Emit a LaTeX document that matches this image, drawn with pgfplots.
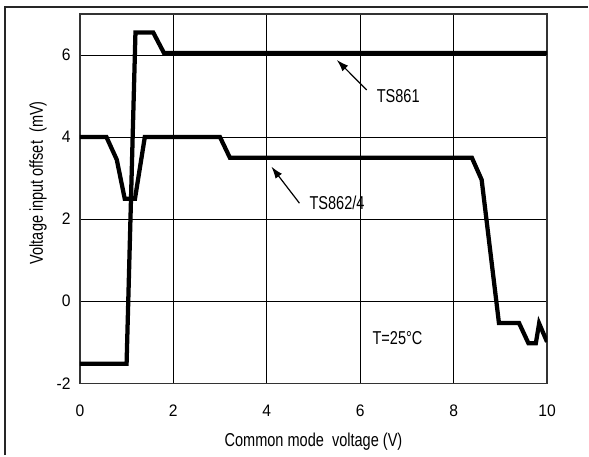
\documentclass[border=0pt]{standalone}
\usepackage{fontspec}
\setmainfont{Liberation Sans}[FakeStretch=0.94]
\newfontfamily\narrow{Liberation Sans}[FakeStretch=0.78]
\usepackage{pgfplots}
\pgfplotsset{compat=1.18}
\usetikzlibrary{arrows.meta}

\pgfplotstableread{
x y
0 -1.52
1.0 -1.52
1.19 6.55
1.57 6.55
1.80 6.05
10 6.05
}\tsone

\pgfplotstableread{
x y
0 4.0
0.57 4.0
0.79 3.45
0.96 2.5
1.18 2.5
1.39 4.0
3.0 4.0
3.21 3.5
8.39 3.5
8.60 2.96
8.97 -0.53
9.40 -0.53
9.60 -1.02
9.76 -1.02
9.83 -0.54
10.0 -0.99
}\tstwo

\begin{document}
\begin{tikzpicture}[font=\fontsize{12}{14}\selectfont]
\begin{axis}[
  name=ax,
  at={(0,0)}, anchor=south west,
  scale only axis,
  width=351pt, height=277.5pt,
  xmin=0, xmax=10, ymin=-2, ymax=7,
  xtick={0,2,...,10}, ytick={-2,0,...,6},
  major tick length=0pt,
  grid=major,
  grid style={black, line width=0.75pt},
  axis line style={black!80, line width=1pt},
  tick label style={font=\fontsize{12.5}{14}\selectfont},
  /pgf/number format/assume math mode=true,
  xticklabel style={yshift=-12.5pt},
  yticklabel style={xshift=-3.5pt},
  xlabel={Common mode\ \ voltage (V)},
  ylabel={Voltage input offset\ \ (mV)},
  label style={font=\narrow\fontsize{14}{16}\selectfont},
  xlabel style={at={(axis description cs:0.5,-0.158)}, anchor=center},
  ylabel style={at={(axis description cs:-0.0897,0.543)}, anchor=center},
]
\addplot[black, line width=3.2pt] table[x=x, y=y] {\tsone};
\addplot[black, line width=3.2pt] table[x=x, y=y] {\tstwo};

\draw[-{Latex[length=9pt,width=6pt]}, line width=0.9pt] (axis cs:6.14,5.15) -- (axis cs:5.5,5.88);
\node[anchor=west, inner sep=0pt, font=\narrow\fontsize{14}{16}\selectfont] at (axis cs:6.35,5.0) {TS861};
\draw[-{Latex[length=9pt,width=6pt]}, line width=0.9pt] (axis cs:4.70,2.39) -- (axis cs:4.10,3.28);
\node[anchor=west, inner sep=0pt, font=\narrow\fontsize{14}{16}\selectfont] at (axis cs:4.91,2.40) {TS862/4};
\node[anchor=west, inner sep=0pt, font=\narrow\fontsize{14}{16}\selectfont] at (axis cs:6.26,-0.885) {T=25°C};
\end{axis}
% outer frame (left and top only) and page extent
\draw[line width=1.5pt, black!85] (-55.9pt,-54pt) -- (-55.9pt,283.1pt) -- (381.75pt,283.1pt);
\path (-60pt,-54pt) rectangle (381.75pt,288pt);
\end{tikzpicture}
\end{document}
